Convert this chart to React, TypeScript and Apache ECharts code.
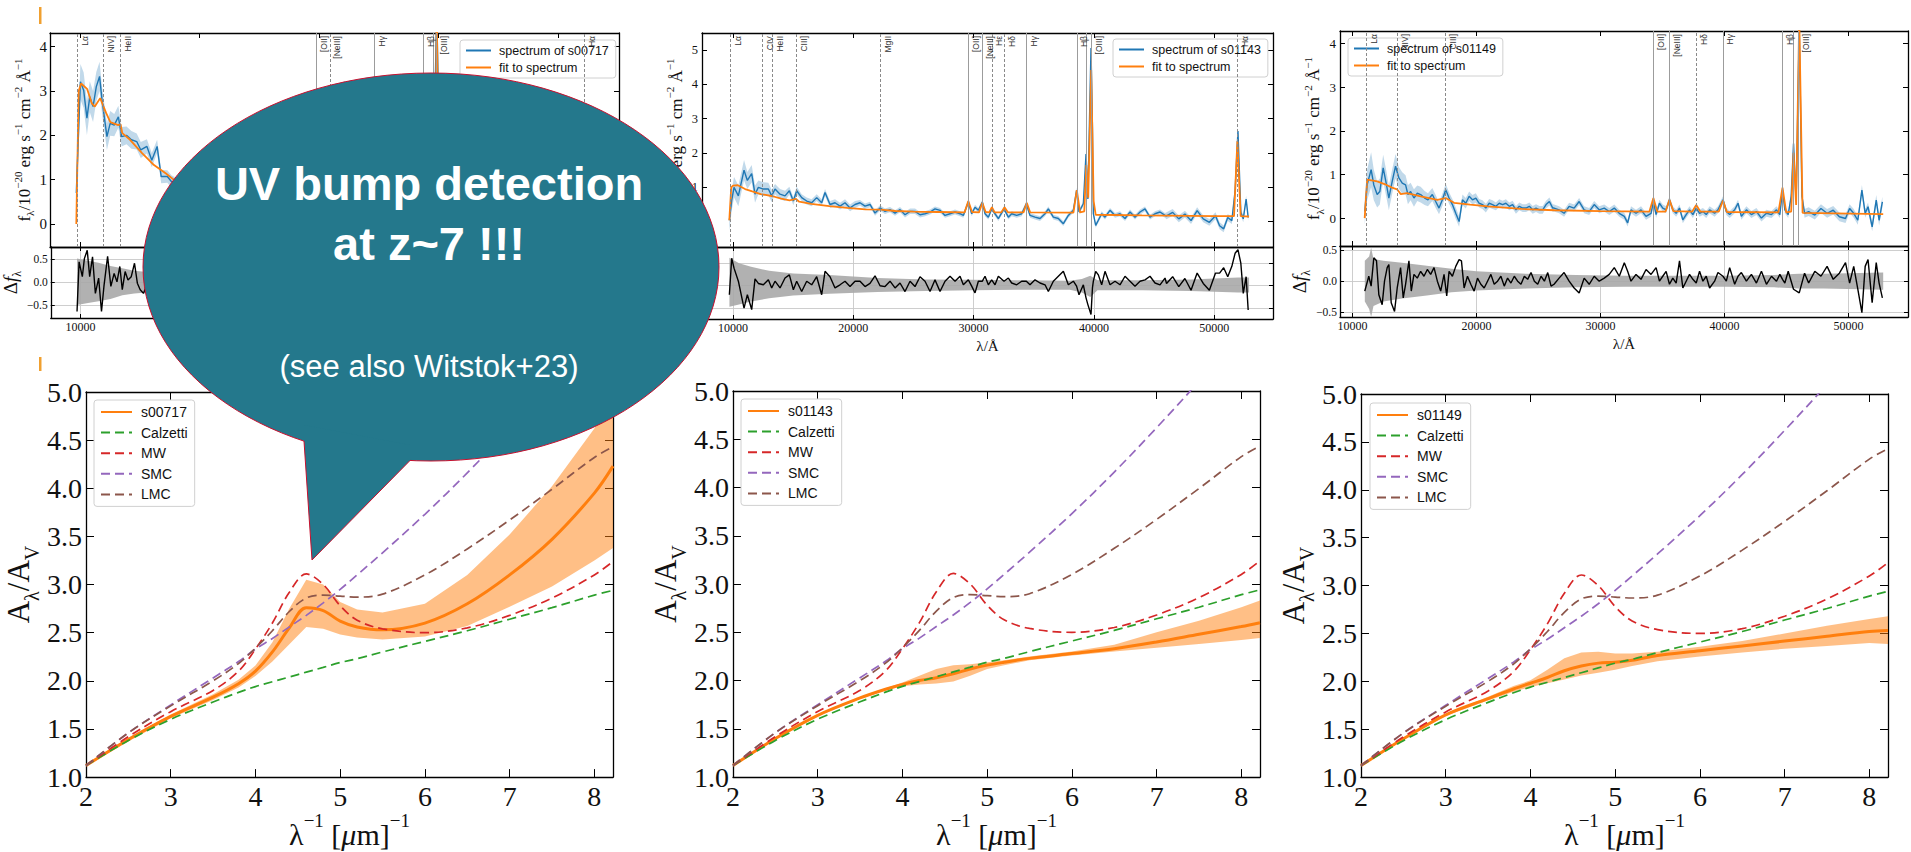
import { useEffect, useRef } from "react";
import * as echarts from "echarts";

const SERIF = '"Liberation Serif", "DejaVu Serif", serif';
const SANS = '"Liberation Sans", "DejaVu Sans", Arial, sans-serif';
const C_BLUE = "#1f77b4";
const C_ORANGE = "#ff7f0e";
const C_GREEN = "#2ca02c";
const C_RED = "#d62728";
const C_PURPLE = "#9467bd";
const C_BROWN = "#8c564b";
const TEAL = "#24788c";

// ---------------- s00717 spectrum (top left) ----------------
const tlWl = [9701, 10043, 10316, 10589, 10828, 11101, 11374, 11647, 11852, 12262, 12535, 12876, 13218, 13491, 13900, 14310, 14754, 15095, 15607, 16017, 16461, 16802, 17314, 17656,
  18200, 19000, 20000, 22000, 24000, 26000, 28000, 30000, 32000, 34600, 36000, 38700, 39580, 39850, 40200, 44000, 48000, 52200, 53000];
const tlFlux = [0.7, 3.21, 3.02, 2.39, 2.87, 2.65, 3.1, 3.33, 2.8, 1.97, 2.27, 2.23, 2.42, 1.97, 2.0, 1.9, 1.86, 1.67, 1.75, 1.44, 1.75, 1.07, 1.07, 0.96,
  0.9, 0.8, 0.7, 0.55, 0.45, 0.35, 0.3, 0.35, 0.25, 0.3, 0.2, 0.6, 1.2, 4.8, 0.2, 0.15, 0.1, 0.8, 0.1];
const tlErr = [0.35, 0.4, 0.4, 0.38, 0.35, 0.35, 0.33, 0.33, 0.3, 0.3, 0.28, 0.25, 0.25, 0.22, 0.2, 0.2, 0.18, 0.18, 0.16, 0.16, 0.15, 0.15, 0.14, 0.14,
  0.12, 0.12, 0.1, 0.1, 0.1, 0.1, 0.1, 0.1, 0.1, 0.1, 0.1, 0.1, 0.12, 0.2, 0.1, 0.1, 0.1, 0.12, 0.1];
const tlFitWl = [9700, 9900, 10100, 10600, 11000, 11250, 11700, 12200, 12550, 13200, 13400, 13550, 14200, 15200, 16200, 17200, 17900, 19000, 20500, 22500,
  25000, 28000, 29500, 29780, 30100, 34400, 34630, 34900, 38500, 38730, 39000, 39400, 39580, 39720, 39850, 40050, 40300, 52000, 52213, 52450, 53000];
const tlFit = [0.0, 3.0, 3.17, 3.05, 2.72, 2.65, 2.84, 2.5, 2.3, 2.23, 2.25, 2.05, 1.9, 1.6, 1.33, 1.14, 0.99, 0.85, 0.7, 0.55,
  0.42, 0.33, 0.3, 0.55, 0.3, 0.25, 0.45, 0.24, 0.22, 1.0, 0.3, 0.3, 1.8, 0.6, 4.8, 0.5, 0.2, 0.12, 0.9, 0.12, 0.1];
const tlResWl = [9701, 9872, 10145, 10316, 10555, 10760, 10999, 11237, 11511, 11750, 11954, 12262, 12535, 12808, 13047, 13286, 13491, 13730, 13969, 14242,
  14515, 14754, 14993, 15266, 15539, 15778, 16500, 17500, 18500, 20000, 22000, 24000, 26000, 28000, 30000, 33000, 36000, 39000, 42000, 46000, 50000, 53000];
const tlRes = [-0.63, 0.44, 0.12, 0.51, 0.69, 0.12, 0.55, -0.24, 0.09, -0.63, -0.09, 0.56, -0.09, 0.19, 0.01, 0.34, -0.16, 0.23, 0.05, 0.12,
  0.41, -0.02, -0.16, -0.24, -0.06, 0.09, 0.1, -0.1, 0.15, -0.05, 0.1, -0.08, 0.05, -0.1, 0.08, -0.05, 0.1, -0.2, 0.05, -0.05, 0.1, 0.0];
const tlBandWl = [9700, 10500, 11500, 12500, 13500, 14500, 16000, 20000, 30000, 40000, 53000];
const tlBandHi = [0.51, 0.47, 0.42, 0.35, 0.3, 0.25, 0.21, 0.15, 0.12, 0.12, 0.15];
const tlBandLo = [-0.49, -0.45, -0.41, -0.36, -0.28, -0.24, -0.21, -0.15, -0.12, -0.12, -0.15];
const tlLineWl = [9809, 11959, 13389, 29777, 30906, 34630, 38728, 39582, 39850, 52213];
const tlLineName = ["Lα", "NIV]", "HeII", "[OII]", "[NeIII]", "Hγ", "Hβ", "", "[OIII]", "Hα"];
const tlLineDash = [1, 1, 1, 0, 1, 0, 0, 0, 0, 1];
// only the first wavelength tick of this panel is visible beside the speech bubble
const tlVisibleTicks = [10000];

// ---------------- s01143 spectrum (top middle) ----------------
const tmWl = [9695, 9889, 10083, 10443, 10914, 11191, 11551, 11828, 12106, 12521, 12937, 13214, 13491, 13907, 14322, 14683, 15015, 15292, 15708, 16124,
  16539, 16955, 17370, 17648, 18063, 18479, 18895, 19310, 19726, 20141, 20557, 20973, 21388, 21804, 22220, 22635, 23051, 23467, 23882, 24298,
  24714, 25129, 25545,
  25961, 26377, 26792, 27208, 27624, 28039, 28455, 28871, 29148, 29563, 29840, 30118, 30395, 30727, 30949, 31226, 31503, 31780, 32057, 32528,
  32889, 33166, 33581, 33997, 34385, 34690, 35105, 35521, 35937, 36214, 36629, 37045, 37461, 37876, 38292, 38560, 38763, 39123, 39345, 39500,
  39760, 39880, 39955, 40148, 40370, 40647, 40924, 41340, 41756, 42171, 42587, 43003, 43418, 43834, 44250, 44665, 45081, 45497, 45912,
  46039, 46548, 47057, 47566, 48075, 48583, 49092, 49601, 50110, 50450, 50789, 51128, 51468, 51739, 51977, 52215, 52418, 52656, 52826];
const tmFlux = [0.04, 0.62, 1.0, 0.75, 1.5, 1.2, 1.4, 0.8, 1.0, 0.95, 0.95, 0.75, 0.95, 0.8, 0.75, 0.9, 0.6, 0.9, 0.7, 0.6,
  0.55, 0.7, 0.55, 0.85, 0.5, 0.55, 0.45, 0.55, 0.4, 0.5, 0.55, 0.45, 0.5, 0.25, 0.4, 0.3, 0.35, 0.25, 0.35, 0.2,
  0.3, 0.3, 0.2,
  0.23, 0.28, 0.37, 0.33, 0.18, 0.23, 0.28, 0.23, 0.18, 0.57, 0.23, 0.42, 0.33, 0.57, 0.23, 0.13, 0.37, 0.23, 0.09, 0.37,
  0.13, 0.23, 0.18, 0.23, 0.52, 0.18, 0.13, 0.09, 0.23, 0.37, 0.13, 0.09, -0.06, 0.18, 0.33, 0.91, 0.28, 0.52, 1.97, 0.66,
  5.06, 2.74, 0.23, -0.11, 0.04, 0.23, 0.13, 0.33, 0.18, 0.23, 0.09, 0.28, 0.13, 0.28, 0.37, 0.13, 0.23, 0.28, 0.18,
  0.17, 0.27, 0.08, 0.22, 0.03, 0.32, 0.08, -0.02, 0.17, -0.12, -0.21, 0.12, 0.03, 0.9, 2.64, 0.27, 0.08, 0.66, 0.12];
const tmErr = [0.3, 0.3, 0.3, 0.3, 0.3, 0.25, 0.25, 0.25, 0.2, 0.2, 0.18, 0.18, 0.15, 0.15, 0.15, 0.12, 0.12, 0.12, 0.1, 0.1,
  0.1, 0.1, 0.1, 0.1, 0.1, 0.1, 0.1, 0.1, 0.1, 0.1, 0.08, 0.08, 0.08, 0.08, 0.08, 0.08, 0.08, 0.08, 0.08, 0.08,
  0.08, 0.08, 0.08,
  0.07, 0.07, 0.07, 0.07, 0.07, 0.07, 0.07, 0.07, 0.07, 0.07, 0.07, 0.07, 0.07, 0.07, 0.07, 0.07, 0.07, 0.07, 0.07, 0.07,
  0.07, 0.07, 0.07, 0.07, 0.07, 0.07, 0.07, 0.07, 0.07, 0.07, 0.07, 0.07, 0.07, 0.07, 0.07, 0.08, 0.07, 0.07, 0.1, 0.08,
  0.15, 0.1, 0.07, 0.07, 0.07, 0.07, 0.07, 0.07, 0.07, 0.07, 0.07, 0.07, 0.07, 0.07, 0.07, 0.07, 0.07, 0.07, 0.07,
  0.1, 0.1, 0.1, 0.1, 0.1, 0.1, 0.1, 0.1, 0.1, 0.1, 0.1, 0.1, 0.1, 0.1, 0.12, 0.1, 0.1, 0.1, 0.1];
const tmRes = [-0.2, 0.61, 0.39, 0.1, -0.5, -0.2, -0.53, 0.15, 0.05, 0.02, 0.13, -0.05, 0.1, -0.05, 0.17, 0.24, -0.09, 0.1, -0.13, 0.1,
  0.02, 0.2, -0.2, 0.32, 0.2, -0.05, 0.02, 0.1, -0.02, 0.1, 0.1, -0.02, 0.05, 0.22, 0.0, -0.02, 0.1, -0.05, 0.06, -0.13,
  0.1, -0.02, 0.2,
  0.1, -0.13, 0.13, -0.13, 0.1, 0.21, 0.1, 0.21, 0.02, 0.13, -0.01, -0.16, 0.1, 0.1, 0.21, 0.02, 0.13, 0.02, 0.21, 0.1,
  0.17, 0.06, 0.02, 0.1, 0.1, 0.02, 0.13, 0.06, 0.02, -0.13, 0.1, 0.21, 0.32, 0.02, 0.1, -0.01, -0.2, 0.02, -0.27, -0.42,
  -0.64, -0.05, 0.1, 0.32, 0.24, 0.02, 0.32, 0.02, 0.1, 0.02, 0.21, 0.1, -0.01, 0.1, 0.13, 0.21, 0.06, 0.02, 0.17,
  0.05, 0.2, -0.02, 0.16, -0.1, 0.28, 0.05, -0.1, 0.28, 0.28, 0.4, 0.2, 0.43, 0.72, 0.8, 0.5, -0.17, 0.2, -0.54];
const tmFitWl = [9690, 9850, 10000, 10400, 11000, 11600, 12300, 12700, 13300, 14000, 14700, 15237, 15500, 16500, 18000, 19500, 21000, 22278, 23500, 25000,
  27000, 29250, 29560, 29870, 30450, 30727, 31000, 31300, 31520, 31750, 32300, 32570, 32850, 34150, 34420, 34700, 38300, 38580, 38850, 39200,
  39370, 39530, 39775, 39980, 40150, 44000, 50000, 51650, 51930, 52200, 52900];
const tmFit = [0.04, 1.0, 1.05, 1.06, 0.95, 0.88, 0.8, 0.78, 0.74, 0.67, 0.62, 0.66, 0.58, 0.52, 0.45, 0.4, 0.36, 0.35, 0.31, 0.29,
  0.28, 0.27, 0.6, 0.28, 0.27, 0.55, 0.28, 0.27, 0.42, 0.27, 0.27, 0.42, 0.27, 0.27, 0.55, 0.27, 0.26, 0.92, 0.27, 0.3,
  1.65, 0.7, 4.42, 0.6, 0.2, 0.18, 0.16, 0.16, 2.35, 0.16, 0.15];
const tmBandWl = [9700, 10500, 11500, 13000, 15000, 18000, 22000, 26000, 30000, 34000, 38000, 39000, 39700, 40300, 44000, 48000, 52000, 52900];
const tmBandHi = [0.62, 0.5, 0.42, 0.33, 0.27, 0.24, 0.17, 0.14, 0.13, 0.12, 0.11, 0.15, 0.22, 0.12, 0.12, 0.14, 0.18, 0.18];
const tmBandLo = [-0.47, -0.42, -0.35, -0.28, -0.22, -0.18, -0.14, -0.12, -0.1, -0.09, -0.09, -0.15, -0.25, -0.1, -0.1, -0.12, -0.15, -0.15];
const tmLineWl = [9809, 12410, 13300, 15237, 22278, 29560, 30727, 31520, 32570, 34400, 38583, 39370, 39775, 51900];
const tmLineName = ["Lα", "CIV", "HeII", "CIII]", "MgII", "[OII]", "[NeIII]", "Hε", "Hδ", "Hγ", "Hβ", "", "[OIII]", "Hα"];
const tmLineDash = [1, 1, 1, 1, 1, 0, 0, 1, 1, 0, 0, 0, 0, 1];

// ---------------- s01149 spectrum (top right) ----------------
const trWl = [10998, 11187, 11510, 11726, 11996, 12212, 12481, 12751, 12940, 13210, 13479, 13749, 14019, 14288, 14477, 14693, 14963, 15232, 15502, 15826,
  16095, 16446, 16716, 16985, 17255, 17525, 17794, 18064, 18334, 18604, 18873, 19143, 19413, 19682, 19952, 20222, 20491, 20761, 21031, 21301,
  21570, 21840, 22110, 22379, 22649, 22919, 23188, 23458, 23728, 23998, 24267, 24537, 24807, 25076, 25346, 25616, 25885, 26155,
  26261, 26666, 27070, 27475, 27879, 28284, 28688, 29093, 29497, 29902, 30307, 30711, 31116, 31520, 31925, 32194, 32464, 32869, 33273, 33678,
  34082, 34271, 34487, 34757, 35026, 35296, 35566, 35835, 36105, 36375, 36644, 36914, 37184, 37454, 37723, 37993, 38263, 38532, 38802, 39207,
  39476, 39881, 40151, 40420, 40825, 41095, 41364, 41769, 42173, 42578, 42982, 43387, 43792, 44196, 44466, 44682, 44870, 45140,
  45380, 45570, 45780, 46030, 46250, 46460, 46790, 47286, 47781, 48276, 48772, 49267, 49762, 50092, 50423, 50753, 51083, 51347, 51578, 51909,
  52239, 52470, 52734];
const trFlux = [0.15, 0.76, 1.11, 0.76, 0.54, 0.61, 1.15, 0.76, 0.46, 0.84, 1.19, 0.92, 0.8, 0.76, 0.54, 0.61, 0.46, 0.57, 0.54, 0.46,
  0.42, 0.54, 0.38, 0.23, 0.42, 0.65, 0.46, 0.31, 0.11, -0.08, 0.42, 0.34, 0.5, 0.42, 0.46, 0.34, 0.31, 0.23, 0.34, 0.31,
  0.27, 0.34, 0.31, 0.34, 0.27, 0.31, 0.19, 0.27, 0.23, 0.23, 0.27, 0.19, 0.23, 0.19, 0.19, 0.31, 0.38, 0.23,
  0.23, 0.19, 0.11, 0.27, 0.23, 0.38, 0.19, 0.15, 0.31, 0.19, 0.23, 0.15, 0.23, 0.11, 0.04, -0.11, 0.19, 0.11, 0.19, 0.04,
  0.11, 0.38, 0.08, 0.34, 0.23, 0.19, 0.42, 0.19, 0.11, 0.23, -0.04, 0.08, 0.19, 0.08, 0.23, 0.11, 0.15, 0.08, 0.19, 0.11,
  0.19, 0.42, 0.15, 0.08, 0.19, 0.34, 0.04, 0.19, 0.08, 0.15, 0.0, 0.11, 0.08, 0.19, 0.08, 0.65, 0.19, 0.08,
  0.5, 1.71, 0.4, 4.35, 0.5, 0.11, 0.15, 0.07, 0.22, 0.11, 0.18, 0.03, -0.01, 0.22, 0.11, -0.05, 0.64, 0.11, 0.26, -0.2,
  0.41, -0.05, 0.37];
const trErr = [0.3, 0.35, 0.4, 0.35, 0.3, 0.3, 0.3, 0.3, 0.28, 0.28, 0.28, 0.25, 0.25, 0.22, 0.22, 0.2, 0.2, 0.18, 0.18, 0.16,
  0.15, 0.15, 0.15, 0.14, 0.14, 0.14, 0.13, 0.13, 0.13, 0.12, 0.12, 0.12, 0.11, 0.11, 0.11, 0.1, 0.1, 0.1, 0.1, 0.1,
  0.09, 0.09, 0.09, 0.09, 0.09, 0.09, 0.09, 0.09, 0.09, 0.09, 0.09, 0.09, 0.09, 0.09, 0.09, 0.09, 0.09, 0.09,
  0.08, 0.08, 0.08, 0.08, 0.08, 0.08, 0.08, 0.08, 0.08, 0.08, 0.08, 0.08, 0.08, 0.08, 0.08, 0.08, 0.08, 0.08, 0.08, 0.08,
  0.08, 0.08, 0.08, 0.08, 0.08, 0.08, 0.08, 0.08, 0.08, 0.08, 0.08, 0.08, 0.08, 0.08, 0.08, 0.08, 0.08, 0.08, 0.08, 0.08,
  0.08, 0.08, 0.08, 0.08, 0.08, 0.08, 0.08, 0.08, 0.08, 0.08, 0.08, 0.08, 0.08, 0.08, 0.08, 0.09, 0.08, 0.08,
  0.1, 0.12, 0.1, 0.15, 0.1, 0.1, 0.1, 0.1, 0.1, 0.1, 0.1, 0.1, 0.1, 0.1, 0.1, 0.1, 0.12, 0.1, 0.1, 0.1,
  0.12, 0.12, 0.12];
const trFitWl = [10990, 11190, 12000, 12750, 13200, 13600, 13900, 14400, 15500, 16850, 17520, 18200, 19500, 20900, 23600, 26300, 30000, 33950, 34270, 34580,
  35250, 35566, 35880, 37400, 37727, 38050, 39550, 39880, 40200, 44350, 44680, 44980, 45380, 45570, 45780, 46030, 46300, 52800];
const trFit = [0.0, 0.88, 0.84, 0.76, 0.7, 0.66, 0.55, 0.57, 0.5, 0.42, 0.46, 0.35, 0.31, 0.27, 0.21, 0.18, 0.16, 0.15, 0.46, 0.15,
  0.15, 0.42, 0.16, 0.15, 0.3, 0.15, 0.15, 0.4, 0.14, 0.13, 0.7, 0.13, 0.15, 1.5, 0.3, 4.6, 0.12, 0.09];
const trResWl = [10998, 11322, 11510, 11726, 11942, 12131, 12400, 12589, 12805, 12940, 13129, 13398, 13614, 13884, 14100, 14288, 14558, 14747, 14963, 15232,
  15502, 15772, 16041, 16311, 16581, 16851, 17120, 17390, 17606, 17794, 18064, 18334, 18604, 18792, 19008, 19278, 19548, 19817, 20087, 20357,
  20626, 20896, 21166, 21435, 21705, 21975, 22245, 22514, 22784, 23054, 23323, 23593, 23863, 24132, 24402, 24672, 24942, 25211, 25481, 25751,
  26020,
  26261, 26666, 27070, 27475, 27879, 28284, 28688, 29093, 29497, 29902, 30307, 30711, 31116, 31520, 31925, 32194, 32464, 32869, 33273, 33678,
  34082, 34487, 34757, 35026, 35296, 35566, 35835, 36105, 36375, 36644, 36914, 37184, 37454, 37723, 37993, 38263, 38532, 38802, 39207, 39476,
  39881, 40151, 40420, 40825, 41095, 41364, 41769, 42173, 42578, 42982, 43387, 43792, 44196, 44466, 44682, 44870, 45140,
  45569, 46031, 46460, 46790, 47286, 47781, 48276, 48772, 49267, 49762, 50092, 50423, 50753, 51083, 51347, 51578, 51909, 52239, 52470, 52734];
const trRes = [-0.16, 0.08, -0.08, 0.38, 0.33, -0.22, -0.38, 0.0, 0.22, 0.27, -0.35, -0.49, -0.11, 0.22, -0.27, -0.05, 0.33, -0.16, 0.11, 0.05,
  0.16, 0.08, 0.19, 0.11, 0.22, 0.0, -0.16, 0.11, -0.24, 0.16, 0.08, 0.24, 0.35, 0.33, -0.11, 0.08, -0.05, -0.16, 0.05, -0.05,
  -0.11, 0.0, 0.11, -0.05, 0.0, 0.08, -0.08, 0.05, -0.03, 0.08, 0.0, -0.05, 0.08, 0.03, 0.14, 0.0, -0.05, 0.08, 0.0, 0.14,
  -0.08,
  -0.05, 0.05, 0.14, 0.0, -0.11, -0.19, 0.05, -0.05, 0.08, 0.0, 0.05, 0.11, 0.22, 0.08, 0.3, 0.16, 0.0, 0.11, 0.03, 0.19,
  0.11, 0.22, 0.0, 0.08, 0.16, -0.05, 0.05, -0.03, 0.33, -0.11, 0.0, 0.11, 0.03, -0.03, 0.16, 0.0, 0.08, -0.11, 0.0, 0.14,
  0.08, 0.0, 0.22, -0.05, 0.08, 0.14, 0.0, 0.11, -0.03, 0.16, -0.05, 0.08, 0.0, 0.11, 0.03, -0.03, 0.16,
  -0.13, -0.19, 0.13, -0.03, 0.16, 0.08, 0.24, 0.03, 0.13, 0.3, -0.03, 0.24, -0.13, -0.51, 0.24, 0.35, -0.35, 0.3, -0.03, -0.27];
const trBandWl = [11000, 11350, 11510, 11700, 12500, 14000, 16000, 18000, 20000, 24000, 28000, 32000, 36000, 40000, 44000, 46000, 48000, 52800];
const trBandHi = [0.33, 0.4, 0.54, 0.36, 0.33, 0.3, 0.25, 0.2, 0.16, 0.12, 0.1, 0.09, 0.09, 0.09, 0.1, 0.12, 0.12, 0.14];
const trBandLo = [-0.33, -0.45, -0.58, -0.4, -0.33, -0.28, -0.23, -0.18, -0.15, -0.12, -0.1, -0.09, -0.09, -0.09, -0.1, -0.12, -0.12, -0.14];
const trLineWl = [11108, 13617, 17524, 34272, 35566, 37727, 39879, 44684, 45542, 45971];
const trLineName = ["Lα", "NIV]", "CIII]", "[OII]", "[NeIII]", "Hδ", "Hγ", "Hβ", "", "[OIII]"];
const trLineDash = [1, 1, 1, 0, 0, 1, 0, 0, 0, 0];

// ---------------- attenuation curves (bottom row) ----------------
const invWl = [2, 2.5, 3, 3.5, 3.8, 4, 4.2, 4.4, 4.6, 4.8, 5, 5.2, 5.5, 6, 6.5, 7, 7.5, 8, 8.22];
const calzetti = [1.12, 1.38, 1.6, 1.78, 1.88, 1.94, 1.99, 2.04, 2.09, 2.14, 2.19, 2.23, 2.3, 2.41, 2.52, 2.64, 2.76, 2.89, 2.94];
const mw = [1.12, 1.42, 1.68, 1.9, 2.1, 2.33, 2.6, 2.92, 3.11, 3.0, 2.78, 2.63, 2.54, 2.5, 2.55, 2.68, 2.86, 3.1, 3.24];
const smc = [1.12, 1.46, 1.75, 2.03, 2.2, 2.33, 2.44, 2.56, 2.68, 2.81, 2.95, 3.1, 3.33, 3.73, 4.16, 4.62, 5.1, 5.6, 5.82];
const lmc = [1.12, 1.46, 1.74, 2.0, 2.18, 2.34, 2.52, 2.72, 2.86, 2.89, 2.88, 2.87, 2.9, 3.1, 3.37, 3.67, 3.99, 4.32, 4.43];
const s00717 = [1.12, 1.39, 1.63, 1.83, 1.97, 2.1, 2.3, 2.55, 2.76, 2.73, 2.62, 2.56, 2.53, 2.6, 2.8, 3.1, 3.47, 3.95, 4.23];
const s00717Hi = [1.13, 1.41, 1.65, 1.86, 2.01, 2.16, 2.4, 2.75, 3.05, 3.0, 2.82, 2.74, 2.71, 2.8, 3.1, 3.52, 4.02, 4.62, 4.95];
const s00717Lo = [1.11, 1.37, 1.61, 1.8, 1.93, 2.05, 2.2, 2.38, 2.56, 2.54, 2.48, 2.45, 2.43, 2.46, 2.57, 2.77, 2.98, 3.25, 3.38];
const s01143 = [1.12, 1.4, 1.64, 1.82, 1.91, 1.96, 2.0, 2.03, 2.07, 2.12, 2.16, 2.19, 2.23, 2.28, 2.33, 2.4, 2.48, 2.56, 2.6];
const s01143Hi = [1.13, 1.41, 1.65, 1.83, 1.92, 1.98, 2.05, 2.12, 2.16, 2.17, 2.19, 2.21, 2.25, 2.3, 2.37, 2.5, 2.62, 2.76, 2.83];
const s01143Lo = [1.11, 1.39, 1.63, 1.81, 1.9, 1.94, 1.96, 1.97, 1.99, 2.05, 2.12, 2.16, 2.21, 2.26, 2.3, 2.34, 2.38, 2.42, 2.44];
const s01149 = [1.12, 1.4, 1.65, 1.82, 1.92, 1.98, 2.04, 2.11, 2.16, 2.19, 2.2, 2.22, 2.27, 2.32, 2.37, 2.42, 2.47, 2.52, 2.53];
const s01149Hi = [1.13, 1.41, 1.66, 1.84, 1.95, 2.01, 2.12, 2.24, 2.3, 2.31, 2.29, 2.29, 2.31, 2.36, 2.42, 2.5, 2.58, 2.65, 2.68];
const s01149Lo = [1.11, 1.39, 1.64, 1.8, 1.89, 1.94, 1.98, 2.02, 2.06, 2.09, 2.12, 2.16, 2.21, 2.26, 2.3, 2.34, 2.37, 2.4, 2.39];

const zip = (xs: number[], ys: number[]) => xs.map((x, i) => [x, ys[i]]);

function band(ax: number, xs: number[], lo: number[], hi: number[], color: string, opacity: number, z: number) {
  return {
    type: "custom",
    xAxisIndex: ax,
    yAxisIndex: ax,
    z,
    silent: true,
    clip: true,
    data: xs.map((x, i) => [x, lo[i], hi[i]]),
    encode: { x: 0, y: [1, 2] },
    renderItem: (params: any, api: any) => {
      if (params.dataIndex !== 0) return null;
      const pts: number[][] = [];
      for (let i = 0; i < xs.length; i++) pts.push(api.coord([xs[i], hi[i]]));
      for (let i = xs.length - 1; i >= 0; i--) pts.push(api.coord([xs[i], lo[i]]));
      return { type: "polygon", shape: { points: pts }, style: { fill: color, opacity } };
    },
  };
}

function line(name: string, ax: number, xs: number[], ys: number[], color: string, width: number, z: number, extra: any = {}) {
  return {
    type: "line",
    name,
    xAxisIndex: ax,
    yAxisIndex: ax,
    data: zip(xs, ys),
    symbol: "none",
    showSymbol: false,
    lineStyle: { color, width },
    itemStyle: { color },
    z,
    silent: true,
    ...extra,
  };
}

function emission(wls: number[], names: string[], dashes: number[]) {
  return {
    silent: true,
    symbol: ["none", "none"],
    animation: false,
    emphasis: { disabled: true },
    label: {
      show: true,
      position: "insideEndBottom",
      formatter: "{b}",
      fontSize: 8.5,
      fontFamily: SANS,
      color: "#333",
      distance: 3,
    },
    data: wls.map((w, i) => ({
      xAxis: w,
      name: names[i],
      lineStyle: { color: dashes[i] ? "#8a8a8a" : "#9c9c9c", width: 1, type: dashes[i] ? [3, 2] : "solid" },
      label: { show: names[i] !== "" },
    })),
  };
}

const intFmt = (v: number) => String(Math.round(v));
const tlFmt = (v: number) => (tlVisibleTicks.includes(Math.round(v)) ? String(Math.round(v)) : "");
const resFmt = (v: number) => (v < -1e-9 ? "−" : "") + Math.abs(v).toFixed(1);
const oneFmt = (v: number) => v.toFixed(1);

function buildOption() {
  const grids = [
    { left: 50, top: 33, width: 569, height: 214 },
    { left: 50, top: 247, width: 569, height: 71 },
    { left: 702, top: 33, width: 571, height: 214 },
    { left: 702, top: 247, width: 571, height: 72 },
    { left: 1340, top: 31, width: 568, height: 215 },
    { left: 1340, top: 246, width: 568, height: 71 },
    { left: 86, top: 392, width: 527, height: 387 },
    { left: 733, top: 391, width: 527, height: 388 },
    { left: 1361, top: 394, width: 527, height: 389 },
  ];
  const xAxis: any[] = [];
  const yAxis: any[] = [];
  const axes = (g: number, c: any) => {
    const axLine = { show: true, onZero: false, lineStyle: { color: "#000", width: 1.3 } };
    const tick = { show: true, inside: true, length: c.tick, lineStyle: { color: "#000", width: 1 } };
    const split = { show: !!c.grid, lineStyle: { color: "#c8c8c8", width: 0.9 } };
    const lbl = (show: boolean, size: number, fmt: any, margin: number, minL: boolean, maxL: boolean) => ({
      show, fontSize: size, fontFamily: SERIF, color: "#111", formatter: fmt, margin, showMinLabel: minL, showMaxLabel: maxL,
    });
    const xb: any = {
      type: "value", gridIndex: g, position: "bottom", min: c.x[0], max: c.x[1], minInterval: c.x[2], maxInterval: c.x[2], splitNumber: 5,
      axisLine: axLine, axisTick: tick, splitLine: split,
      axisLabel: lbl(!!c.xl, c.xf || 12, c.xfmt || intFmt, c.xm ?? 3, !!c.xMin, false),
    };
    if (c.xn) Object.assign(xb, { name: c.xn, nameLocation: "middle", nameGap: c.xng, nameTextStyle: c.xns });
    xAxis.push(xb);
    xAxis.push({
      type: "value", gridIndex: g, position: "top", min: c.x[0], max: c.x[1], minInterval: c.x[2], maxInterval: c.x[2], splitNumber: 5,
      axisLine: axLine, axisTick: tick, splitLine: { show: false }, axisLabel: { show: false },
    });
    const yl: any = {
      type: "value", gridIndex: g, position: "left", min: c.y[0], max: c.y[1], minInterval: c.y[2], maxInterval: c.y[2], splitNumber: 5,
      axisLine: axLine, axisTick: tick, splitLine: split,
      axisLabel: lbl(true, c.yf, c.yfmt, c.ym ?? 4, !!c.yMin, !!c.yMax),
    };
    if (c.yn) Object.assign(yl, { name: c.yn, nameLocation: "middle", nameRotate: 90, nameGap: c.yng, nameTextStyle: c.yns });
    yAxis.push(yl);
    yAxis.push({
      type: "value", gridIndex: g, position: "right", min: c.y[0], max: c.y[1], minInterval: c.y[2], maxInterval: c.y[2], splitNumber: 5,
      axisLine: axLine, axisTick: tick, splitLine: { show: false }, axisLabel: { show: false },
    });
  };

  const fluxName = "{n|f}{s|λ}{n|/10}{p|−20}{n| erg s}{p|−1}{n| cm}{p|−2}{n| Å}{p|−1}";
  const fluxStyle = (size: number) => ({
    fontFamily: SERIF, fontSize: size, color: "#111",
    rich: {
      n: { fontFamily: SERIF, fontSize: size, color: "#111", verticalAlign: "bottom", padding: [0, 0, 3, 0], lineHeight: size + 6 },
      p: { fontFamily: SERIF, fontSize: Math.round(size * 0.65), color: "#111", verticalAlign: "top" },
      s: { fontFamily: SERIF, fontSize: Math.round(size * 0.65), color: "#111", verticalAlign: "bottom" },
    },
  });
  const resName = "{n|Δ}{i|f}{s|λ}";
  const resStyle = {
    fontFamily: SERIF, fontSize: 19, color: "#111",
    rich: {
      n: { fontFamily: SERIF, fontSize: 19, color: "#111", verticalAlign: "bottom", padding: [0, 0, 3, 0], lineHeight: 25 },
      i: { fontFamily: SERIF, fontSize: 19, fontStyle: "italic", color: "#111", verticalAlign: "bottom", padding: [0, 0, 3, 0], lineHeight: 25 },
      s: { fontFamily: SERIF, fontSize: 12, color: "#111", verticalAlign: "bottom" },
    },
  };
  const wlStyle = { fontFamily: SERIF, fontSize: 15, color: "#111" };
  const extXName = "{n|λ}{p|−1}{n| [}{m|μ}{n|m]}{p|−1}";
  const extXStyle = {
    fontFamily: SERIF, fontSize: 30, color: "#111",
    rich: {
      n: { fontFamily: SERIF, fontSize: 30, color: "#111", verticalAlign: "bottom", padding: [0, 0, 2, 0], lineHeight: 40 },
      m: { fontFamily: SERIF, fontSize: 30, fontStyle: "italic", color: "#111", verticalAlign: "bottom", padding: [0, 0, 2, 0], lineHeight: 40 },
      p: { fontFamily: SERIF, fontSize: 19, color: "#111", verticalAlign: "top" },
    },
  };
  const extYName = "{n|A}{s|λ}{n|/A}{s|V}";
  const extYStyle = {
    fontFamily: SERIF, fontSize: 31, color: "#111",
    rich: {
      n: { fontFamily: SERIF, fontSize: 31, color: "#111", verticalAlign: "top", lineHeight: 39 },
      s: { fontFamily: SERIF, fontSize: 20, color: "#111", verticalAlign: "bottom" },
    },
  };

  // spectra panels
  axes(0, { x: [7500, 55100, 10000], y: [-0.52, 4.31, 1], tick: 5, yf: 15, yfmt: intFmt, ym: 3, yn: fluxName, yng: 14, yns: fluxStyle(17) });
  axes(1, { x: [7500, 55100, 10000], y: [-0.77, 0.76, 0.5], tick: 4, grid: true, xl: true, xf: 12, xm: 3, xfmt: tlFmt, yf: 11.5, yfmt: resFmt, ym: 3,
    yn: resName, yng: 26, yns: resStyle });
  axes(2, { x: [7420, 54890, 10000], y: [-0.74, 5.5, 1], tick: 5, yf: 12.5, yfmt: intFmt, ym: 4, yn: fluxName, yng: 13, yns: fluxStyle(17) });
  axes(3, { x: [7420, 54890, 10000], y: [-0.74, 0.86, 0.5], tick: 4, grid: true, xl: true, xf: 12, xm: 3, yf: 11.5, yfmt: resFmt, ym: 3,
    xn: "λ/Å", xng: 19, xns: wlStyle, yn: resName, yng: 26, yns: resStyle });
  axes(4, { x: [9000, 54800, 10000], y: [-0.64, 4.29, 1], tick: 5, yf: 13, yfmt: intFmt, ym: 4, yn: fluxName, yng: 15, yns: fluxStyle(17) });
  axes(5, { x: [9000, 54800, 10000], y: [-0.58, 0.57, 0.5], tick: 4, grid: true, xl: true, xf: 12, xm: 3, yf: 11.5, yfmt: resFmt, ym: 3,
    xn: "λ/Å", xng: 19, xns: wlStyle, yn: resName, yng: 26, yns: resStyle });
  // attenuation panels
  for (const g of [6, 7, 8]) {
    axes(g, { x: [2, 8.22, 1], y: [1, 5, 0.5], tick: 8, xl: true, xf: 28, xm: 5, xMin: true, yf: 28, yfmt: oneFmt, ym: 4, yMin: true, yMax: true,
      xfmt: (v: number) => String(v), xn: extXName, xng: 33, xns: extXStyle, yn: extYName, yng: 44, yns: extYStyle });
  }

  const series: any[] = [];
  const spectrum = (main: number, res: number, label: string, wl: number[], flux: number[], err: number[], fitWl: number[], fit: number[],
    resWl: number[], resV: number[], bWl: number[], bLo: number[], bHi: number[], lw: number[], ln: string[], ld: number[]) => {
    series.push(band(main, wl, flux.map((f, i) => f - err[i]), flux.map((f, i) => f + err[i]), C_BLUE, 0.28, 1));
    series.push(line(label, main, wl, flux, C_BLUE, 1.4, 3, { markLine: emission(lw, ln, ld) }));
    series.push(line("fit to spectrum", main, fitWl, fit, C_ORANGE, 1.8, 4));
    series.push(band(res, bWl, bLo, bHi, "#a8a8a8", 0.9, 1));
    series.push(line("residual", res, resWl, resV, "#000", 1.4, 3));
  };
  spectrum(0, 2, "spectrum of s00717", tlWl, tlFlux, tlErr, tlFitWl, tlFit, tlResWl, tlRes, tlBandWl, tlBandLo, tlBandHi, tlLineWl, tlLineName, tlLineDash);
  spectrum(4, 6, "spectrum of s01143", tmWl, tmFlux, tmErr, tmFitWl, tmFit, tmWl, tmRes, tmBandWl, tmBandLo, tmBandHi, tmLineWl, tmLineName, tmLineDash);
  spectrum(8, 10, "spectrum of s01149", trWl, trFlux, trErr, trFitWl, trFit, trResWl, trRes, trBandWl, trBandLo, trBandHi, trLineWl, trLineName, trLineDash);

  const DASH = [9, 5];
  const extinction = (ax: number, name: string, y: number[], lo: number[], hi: number[]) => {
    series.push(band(ax, invWl, lo, hi, C_ORANGE, 0.5, 1));
    series.push(line(name, ax, invWl, y, C_ORANGE, 3, 3, { smooth: 0.35 }));
    const dash = { smooth: 0.35 };
    series.push({ ...line("Calzetti", ax, invWl, calzetti, C_GREEN, 1.7, 4, dash), lineStyle: { color: C_GREEN, width: 1.7, type: DASH } });
    series.push({ ...line("MW", ax, invWl, mw, C_RED, 1.7, 4, dash), lineStyle: { color: C_RED, width: 1.7, type: DASH } });
    series.push({ ...line("SMC", ax, invWl, smc, C_PURPLE, 1.7, 4, dash), lineStyle: { color: C_PURPLE, width: 1.7, type: DASH } });
    series.push({ ...line("LMC", ax, invWl, lmc, C_BROWN, 1.7, 4, dash), lineStyle: { color: C_BROWN, width: 1.7, type: DASH } });
  };
  extinction(12, "s00717", s00717, s00717Lo, s00717Hi);
  extinction(14, "s01143", s01143, s01143Lo, s01143Hi);
  extinction(16, "s01149", s01149, s01149Lo, s01149Hi);

  const legBase = {
    orient: "vertical", selectedMode: false, backgroundColor: "rgba(255,255,255,0.85)", borderColor: "#d0d0d0", borderWidth: 1, borderRadius: 3,
    itemStyle: { opacity: 0 },
  };
  const topLeg = (left: number, top: number, name: string) => ({
    ...legBase, left, top, itemWidth: 25, itemHeight: 14, itemGap: 4, padding: [4, 7, 4, 5],
    textStyle: { fontFamily: SANS, fontSize: 12.5, color: "#111", padding: [0, 0, 0, 3] }, data: [name, "fit to spectrum"],
  });
  const botLeg = (left: number, top: number, name: string) => ({
    ...legBase, left, top, itemWidth: 31, itemHeight: 14, itemGap: 6.6, padding: [5, 7, 5, 6],
    textStyle: { fontFamily: SANS, fontSize: 14, color: "#111", padding: [0, 0, 0, 4] }, data: [name, "Calzetti", "MW", "SMC", "LMC"],
  });

  const txt = (t: string, y: number, size: number, weight: string) => ({
    type: "text", x: 429, y, z: 103,
    style: { text: t, fill: "#ffffff", fontSize: size, fontWeight: weight, fontFamily: SANS, align: "center", verticalAlign: "middle", textAlign: "center", textVerticalAlign: "middle" },
  });

  return {
    animation: false,
    backgroundColor: "#ffffff",
    grid: grids,
    xAxis,
    yAxis,
    series,
    legend: [
      topLeg(460, 40, "spectrum of s00717"),
      topLeg(1113, 39, "spectrum of s01143"),
      topLeg(1348, 38, "spectrum of s01149"),
      botLeg(94, 400, "s00717"),
      botLeg(741, 399, "s01143"),
      botLeg(1370, 403, "s01149"),
    ],
    graphic: {
      elements: [
        { type: "rect", z: 100, shape: { x: 39, y: 7, width: 2.5, height: 17 }, style: { fill: "#f0a030" } },
        { type: "rect", z: 100, shape: { x: 39, y: 357, width: 2.5, height: 14 }, style: { fill: "#f0a030" } },
        { type: "ellipse", z: 100, shape: { cx: 431, cy: 267, rx: 288, ry: 194 }, style: { fill: TEAL, stroke: "#c8102e", lineWidth: 1 } },
        { type: "polygon", z: 101, shape: { points: [[304, 441], [312, 560], [410, 460.5], [410, 445], [304, 425]] }, style: { fill: TEAL } },
        { type: "polyline", z: 102, shape: { points: [[304, 441], [312, 560], [410, 460.5]] }, style: { stroke: "#c8102e", lineWidth: 1, fill: null } },
        txt("UV bump detection", 183, 47, "bold"),
        txt("at z~7 !!!", 243, 47, "bold"),
        txt("(see also Witstok+23)", 366, 31, "normal"),
      ],
    },
  };
}

export default function App() {
  const ref = useRef<HTMLDivElement>(null);
  useEffect(() => {
    const chart = echarts.init(ref.current!, null, { renderer: "svg" });
    chart.setOption(buildOption() as any);
    return () => chart.dispose();
  }, []);
  return <div ref={ref} style={{ position: "fixed", left: 0, top: 0, width: 1911, height: 852, background: "#fff" }} />;
}
